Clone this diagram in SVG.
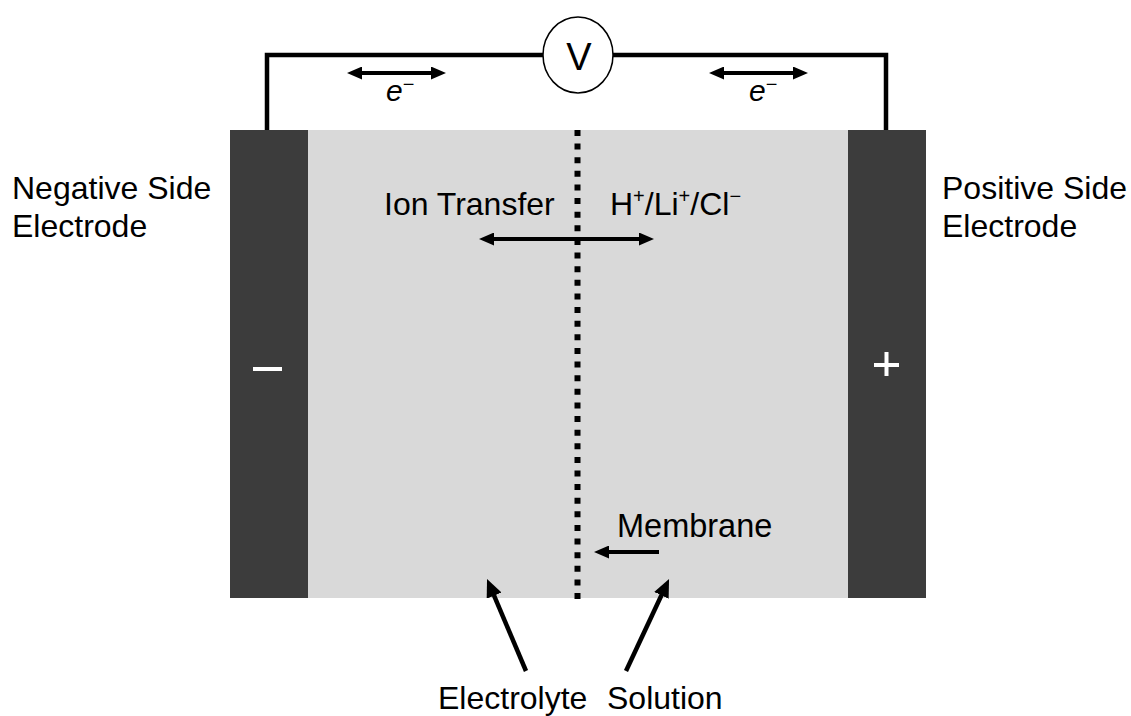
<svg xmlns="http://www.w3.org/2000/svg" width="1131" height="716" viewBox="0 0 1131 716">
  <style>
    .t { font-family: "Liberation Sans", Arial, sans-serif; font-size: 32px; fill: #000; }
    .ei { font-family: "Liberation Sans", Arial, sans-serif; font-size: 30px; font-style: italic; fill: #000; }
    .arr { stroke: #000; stroke-width: 4; fill: none; marker-start: url(#ah); marker-end: url(#ah); }
    .arr1 { stroke: #000; stroke-width: 4; fill: none; marker-end: url(#ah); }
    .arrb { stroke: #000; stroke-width: 4.5; fill: none; marker-end: url(#ahb); }
    .wire { stroke: #000; stroke-width: 4.5; fill: none; }
  </style>
  <defs>
    <marker id="ah" viewBox="0 0 15 13" markerWidth="15" markerHeight="13" refX="4" refY="6.5" markerUnits="userSpaceOnUse" orient="auto-start-reverse">
      <path d="M0,0 L15,6.5 L0,13 z" fill="#000"/>
    </marker>
    <marker id="ahb" viewBox="0 0 18 16" markerWidth="18" markerHeight="16" refX="4" refY="8" markerUnits="userSpaceOnUse" orient="auto">
      <path d="M0,0 L18,8 L0,16 z" fill="#000"/>
    </marker>
  </defs>
  <rect width="1131" height="716" fill="#fff"/>

  <g id="electrolyte">
    <rect x="308" y="130" width="540" height="468" fill="#d9d9d9"/>
  </g>
  <g id="negative-electrode">
    <rect x="230" y="130" width="78" height="468" fill="#3c3c3c"/>
    <rect x="253" y="367" width="29" height="4" fill="#fff"/>
  </g>
  <g id="positive-electrode">
    <rect x="848" y="130" width="78" height="468" fill="#3c3c3c"/>
    <rect x="874" y="363" width="25" height="4" fill="#fff"/>
    <rect x="884.5" y="352" width="4" height="24" fill="#fff"/>
  </g>
  <g id="membrane">
    <line x1="577.5" y1="130" x2="577.5" y2="599" stroke="#000" stroke-width="6" stroke-dasharray="6 7.62"/>
  </g>
  <g id="voltmeter">
    <ellipse cx="578" cy="55" rx="35" ry="38" fill="#fff" stroke="#000" stroke-width="1.5"/>
    <text class="t" x="579" y="70" text-anchor="middle" style="font-size:38px">V</text>
  </g>

  <g id="connectors">
    <path class="wire" d="M267,130 V55 H543 M613,55 H886 V130"/>
    <line class="arr" x1="358" y1="73" x2="435" y2="73"/>
    <line class="arr" x1="720" y1="73" x2="797" y2="73"/>
    <line class="arr" x1="490" y1="239" x2="643" y2="239"/>
    <line class="arr1" x1="659" y1="552" x2="605" y2="552"/>
    <line class="arrb" x1="526" y1="671" x2="492.5" y2="591.9"/>
    <line class="arrb" x1="626" y1="671" x2="663.1" y2="591.7"/>
  </g>

  <g id="labels">
    <text class="ei" x="386" y="101">e<tspan font-style="normal" font-size="20" dy="-10">−</tspan></text>
    <text class="ei" x="749" y="101">e<tspan font-style="normal" font-size="20" dy="-10">−</tspan></text>
    <text class="t" x="12" y="199">Negative Side</text>
    <text class="t" x="12" y="237">Electrode</text>
    <text class="t" x="942" y="199">Positive Side</text>
    <text class="t" x="942" y="237">Electrode</text>
    <text class="t" x="384" y="215">Ion Transfer</text>
    <text class="t" x="610" y="215">H<tspan font-size="20" dy="-12">+</tspan><tspan dy="12">/Li</tspan><tspan font-size="20" dy="-12">+</tspan><tspan dy="12">/Cl</tspan><tspan font-size="20" dy="-12">−</tspan></text>
    <text class="t" x="617" y="537" style="font-size:32.5px">Membrane</text>
    <text class="t" x="438" y="709">Electrolyte</text>
    <text class="t" x="607" y="709">Solution</text>
  </g>
</svg>
